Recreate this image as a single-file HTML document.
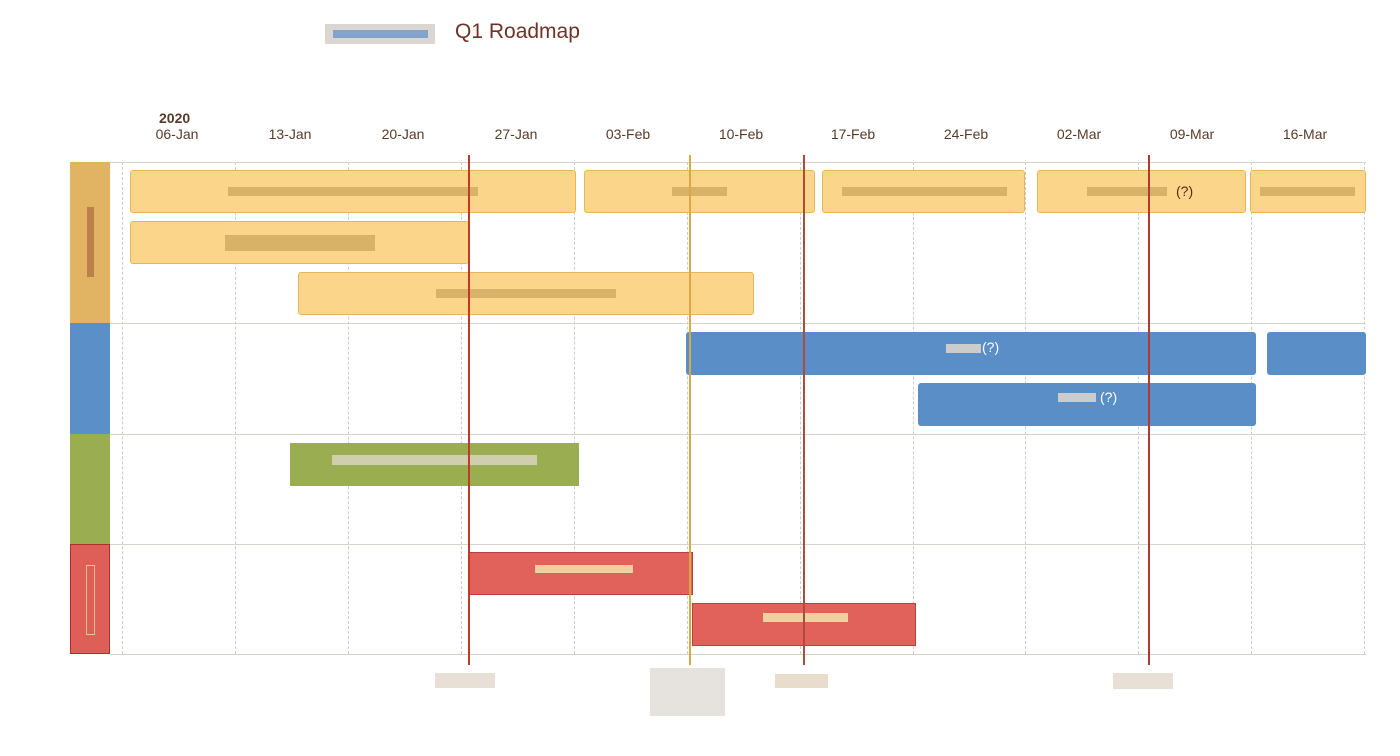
<!DOCTYPE html>
<html><head><meta charset="utf-8"><style>
body{margin:0;width:1400px;height:756px;background:#fff;position:relative;overflow:hidden;font-family:"Liberation Sans",sans-serif}
div{position:absolute;box-sizing:border-box}
.d{font-size:14px;color:#5a3a2a;width:80px;text-align:center;top:126px}
.v{top:162px;height:492px;border-left:1px dashed #d0cbc6;width:0}
.h{left:110px;width:1256px;height:0;border-top:1px solid #d8d2cc}
.y{background:#fad58a;border:1px solid #e6b65c;border-radius:3px;height:43px}
.b{background:#5a8ec6;border-radius:3px;height:43px}
.g{background:#9aad50;height:43px}
.r{background:#e0625b;border:1px solid #b84040;height:43px}
.t{height:9px;top:50%;margin-top:-5px;left:50%;background:#c9a35a;opacity:.7}
.q{font-size:14px;color:#5a2a1a;top:12px}
</style></head><body>
<div style="left:325px;top:24px;width:110px;height:20px;background:#dcd6d2"></div>
<div style="left:333px;top:30px;width:95px;height:8px;background:#5b8fc7;opacity:.7"></div>
<div style="left:455px;top:20px;font-size:21px;color:#6e3227">Q1 Roadmap</div>
<div style="left:159px;top:110px;font-size:14px;font-weight:bold;color:#5a3a2a">2020</div>
<div class="d" style="left:137px">06-Jan</div><div class="d" style="left:250px">13-Jan</div><div class="d" style="left:363px">20-Jan</div><div class="d" style="left:476px">27-Jan</div><div class="d" style="left:588px">03-Feb</div><div class="d" style="left:701px">10-Feb</div><div class="d" style="left:813px">17-Feb</div><div class="d" style="left:926px">24-Feb</div><div class="d" style="left:1039px">02-Mar</div><div class="d" style="left:1152px">09-Mar</div><div class="d" style="left:1265px">16-Mar</div>
<div class="v" style="left:122px"></div><div class="v" style="left:235px"></div><div class="v" style="left:348px"></div><div class="v" style="left:461px"></div><div class="v" style="left:574px"></div><div class="v" style="left:687px"></div><div class="v" style="left:800px"></div><div class="v" style="left:913px"></div><div class="v" style="left:1025px"></div><div class="v" style="left:1138px"></div><div class="v" style="left:1251px"></div><div class="v" style="left:1364px"></div>
<div class="h" style="top:162px"></div><div class="h" style="top:323px"></div><div class="h" style="top:434px"></div><div class="h" style="top:544px"></div><div class="h" style="top:654px"></div>
<div style="left:70px;top:162px;width:40px;height:161px;background:#e0b462"><div style="left:17px;top:45px;width:7px;height:70px;background:#a0603a;opacity:.6"></div></div>
<div style="left:70px;top:323px;width:40px;height:111px;background:#5b8fc7"></div>
<div style="left:70px;top:434px;width:40px;height:110px;background:#9aad50"></div>
<div style="left:70px;top:544px;width:40px;height:110px;background:#dd5f58;border:1px solid #b03030"><div style="left:15px;top:20px;width:9px;height:70px;border:1px solid #f0c090"></div></div>
<div class="y" style="left:130px;top:170px;width:446px"><div class="t" style="width:250px;margin-left:-125px"></div></div>
<div class="y" style="left:584px;top:170px;width:231px"><div class="t" style="width:55px;margin-left:-28px"></div></div>
<div class="y" style="left:822px;top:170px;width:203px"><div class="t" style="width:165px;margin-left:-82px"></div></div>
<div class="y" style="left:1037px;top:170px;width:209px"><div class="t" style="width:80px;margin-left:-55px"></div><div class="q" style="left:138px">(?)</div></div>
<div class="y" style="left:1250px;top:170px;width:116px"><div class="t" style="width:95px;margin-left:-48px"></div></div>
<div class="y" style="left:130px;top:221px;width:339px"><div class="t" style="width:150px;margin-left:-75px;height:16px;margin-top:-8px"></div></div>
<div class="y" style="left:298px;top:272px;width:456px"><div class="t" style="width:180px;margin-left:-90px"></div></div>
<div class="b" style="left:686px;top:332px;width:570px"><div style="left:260px;top:12px;width:35px;height:9px;background:#ccc"></div><div style="left:296px;top:7px;color:#fff;font-size:14px">(?)</div></div>
<div class="b" style="left:1267px;top:332px;width:99px"></div>
<div class="b" style="left:918px;top:383px;width:338px"><div style="left:140px;top:10px;width:38px;height:9px;background:#ccc"></div><div style="left:182px;top:6px;color:#fff;font-size:14px">(?)</div></div>
<div class="g" style="left:290px;top:443px;width:289px"><div style="left:42px;top:12px;width:205px;height:10px;background:#dcd6c6;opacity:.8"></div></div>
<div class="r" style="left:469px;top:552px;width:224px"><div style="left:65px;top:12px;width:98px;height:8px;background:#f0d0a0"></div></div>
<div class="r" style="left:692px;top:603px;width:224px"><div style="left:70px;top:9px;width:85px;height:9px;background:#f0d0a0"></div></div>
<div style="left:468px;top:155px;width:2px;height:510px;background:#c0392b"></div>
<div style="left:689px;top:155px;width:2px;height:510px;background:#dba848"></div>
<div style="left:803px;top:155px;width:2px;height:510px;background:#b04a3a"></div>
<div style="left:1148px;top:155px;width:2px;height:510px;background:#b03a30"></div>
<div style="left:435px;top:673px;width:60px;height:15px;background:#e8e0d6"></div>
<div style="left:650px;top:668px;width:75px;height:48px;background:#e6e2de"></div>
<div style="left:775px;top:674px;width:53px;height:14px;background:#e8dccc"></div>
<div style="left:1113px;top:673px;width:60px;height:16px;background:#e8e0d6"></div>
</body></html>
